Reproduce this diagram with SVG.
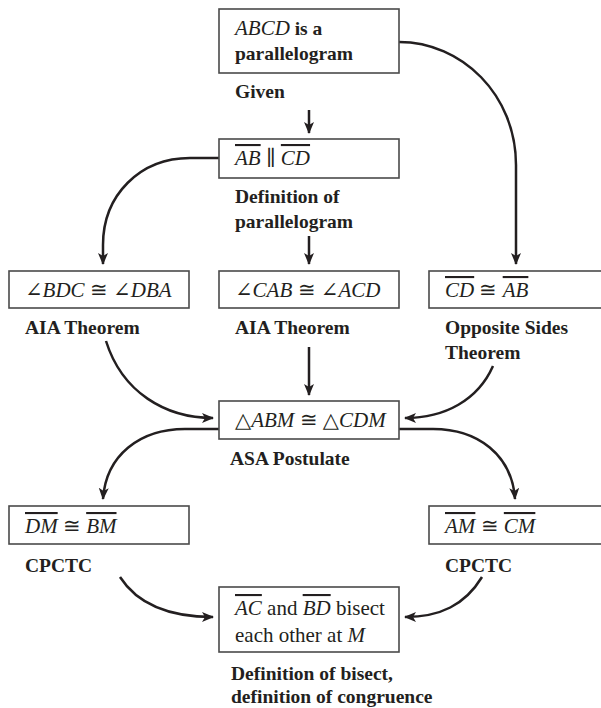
<svg xmlns="http://www.w3.org/2000/svg" width="601" height="708" viewBox="0 0 601 708">
<defs>
<marker id="ah" markerUnits="userSpaceOnUse" markerWidth="14" markerHeight="12" refX="11" refY="5" orient="auto">
<path d="M0,0 L12,5 L0,10 L3,5 Z" fill="#231f20"/>
</marker>
</defs>
<style>
.box{fill:#fff;stroke:#4a4a4a;stroke-width:1.6}
.t{font-family:"Liberation Serif","DejaVu Serif",serif;font-size:21px;fill:#231f20}
.b{font-weight:bold;font-size:19.5px}
.i{font-style:italic}
.lbl{font-family:"Liberation Serif","DejaVu Serif",serif;font-size:19.5px;font-weight:bold;fill:#231f20}
.ol{text-decoration:overline}
.c{fill:none;stroke:#231f20;stroke-width:2.5;marker-end:url(#ah)}
</style>
<rect width="601" height="708" fill="#fff"/>
<g id="connectors">
<path class="c" d="M309,110 V133"/>
<path class="c" d="M309,236 V264"/>
<path class="c" d="M399,42 C462,42 516,95 516,165 V264"/>
<path class="c" d="M219,158 H190 C140,158 103,195 103,245 V264"/>
<path class="c" d="M309,347 V395"/>
<path class="c" d="M106,341 C122,392 165,418 213,418"/>
<path class="c" d="M493,366 C478,400 445,418 405,418"/>
<path class="c" d="M219,429 H185 C140,429 106,455 103,499"/>
<path class="c" d="M399,429 H433 C478,429 512,455 515,499"/>
<path class="c" d="M120,577 C138,605 170,617 213,617"/>
<path class="c" d="M482,577 C465,605 440,617 405,617"/>
</g>
<g id="n1">
<rect class="box" x="219" y="9" width="180" height="64"/>
<text class="t" x="235" y="35"><tspan class="i">ABCD</tspan><tspan class="b"> is a</tspan></text>
<text class="t b" x="235" y="60">parallelogram</text>
<text class="lbl" x="235" y="98">Given</text>
</g>
<g id="n2">
<rect class="box" x="219" y="139" width="180" height="39"/>
<text class="t" x="235" y="165"><tspan class="i ol">AB</tspan> ∥ <tspan class="i ol">CD</tspan></text>
<text class="lbl" x="235" y="203">Definition of</text>
<text class="lbl" x="235" y="228">parallelogram</text>
</g>
<g id="n3">
<rect class="box" x="9" y="271" width="180" height="37"/>
<text class="t" x="25" y="297">∠<tspan class="i">BDC</tspan> ≅ ∠<tspan class="i">DBA</tspan></text>
<text class="lbl" x="25" y="334">AIA Theorem</text>
</g>
<g id="n4">
<rect class="box" x="219" y="271" width="180" height="37"/>
<text class="t" x="235" y="297">∠<tspan class="i">CAB</tspan> ≅ ∠<tspan class="i">ACD</tspan></text>
<text class="lbl" x="235" y="334">AIA Theorem</text>
</g>
<g id="n5">
<rect class="box" x="429" y="271" width="180" height="37"/>
<text class="t" x="445" y="297"><tspan class="i ol">CD</tspan> ≅  <tspan class="i ol">AB</tspan></text>
<text class="lbl" x="445" y="334">Opposite Sides</text>
<text class="lbl" x="445" y="359">Theorem</text>
</g>
<g id="n6">
<rect class="box" x="219" y="401" width="180" height="38"/>
<text class="t" x="235" y="427">△<tspan class="i">ABM</tspan> ≅ △<tspan class="i">CDM</tspan></text>
<text class="lbl" x="230" y="465">ASA Postulate</text>
</g>
<g id="n7">
<rect class="box" x="9" y="506" width="180" height="38"/>
<text class="t" x="25" y="533"><tspan class="i ol">DM</tspan> ≅  <tspan class="i ol">BM</tspan></text>
<text class="lbl" x="25" y="572">CPCTC</text>
</g>
<g id="n8">
<rect class="box" x="429" y="506" width="180" height="38"/>
<text class="t" x="445" y="533"><tspan class="i ol">AM</tspan> ≅  <tspan class="i ol">CM</tspan></text>
<text class="lbl" x="445" y="572">CPCTC</text>
</g>
<g id="n9">
<rect class="box" x="219" y="587" width="180" height="65"/>
<text class="t" x="235" y="615"><tspan class="i ol">AC</tspan> and <tspan class="i ol">BD</tspan> bisect</text>
<text class="t" x="235" y="642">each other at <tspan class="i">M</tspan></text>
<text class="lbl" x="231" y="680">Definition of bisect,</text>
<text class="lbl" x="231" y="703">definition of congruence</text>
</g>
</svg>
